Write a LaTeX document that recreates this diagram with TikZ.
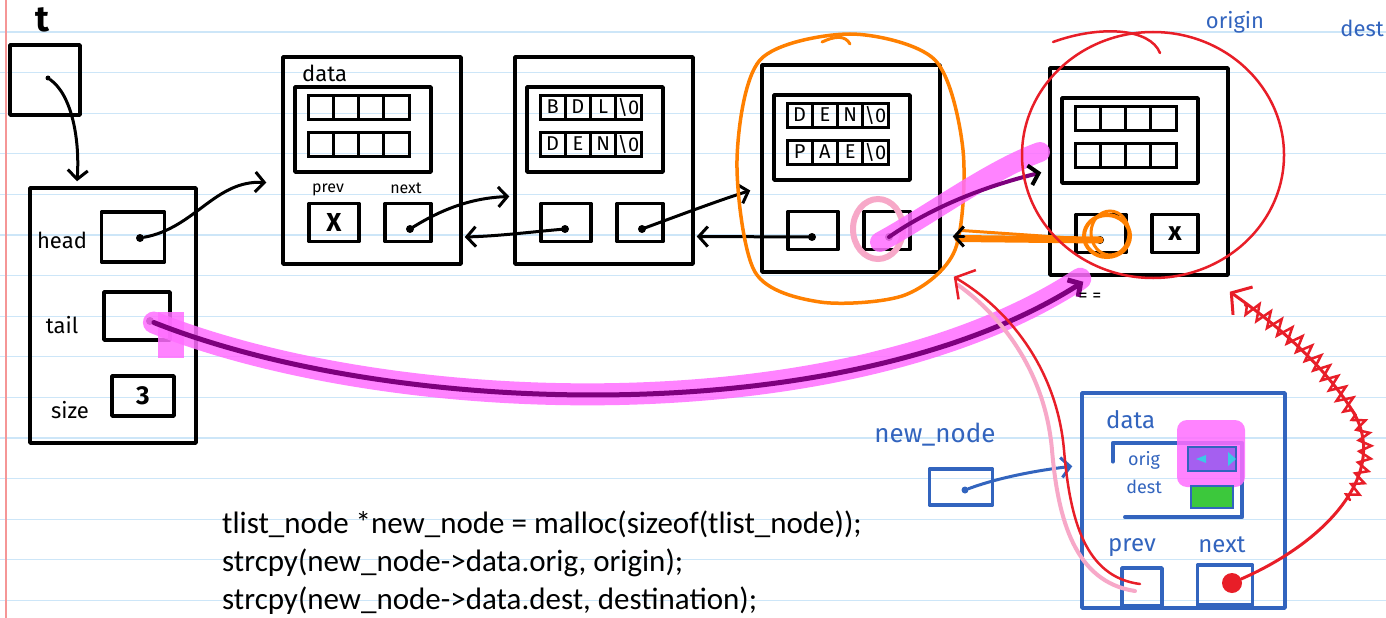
\documentclass[tikz,border=0pt]{standalone}
\usepackage{fontspec}
\setmainfont{Carlito}
\newfontfamily\hand{Fira Sans}
\usetikzlibrary{arrows.meta,decorations.pathmorphing,calc}
\definecolor{rulec}{RGB}{205,230,248}
\definecolor{marginc}{RGB}{245,150,150}
\definecolor{penblue}{RGB}{50,100,190}
\definecolor{penred}{RGB}{232,30,40}
\definecolor{penorange}{RGB}{255,128,0}
\definecolor{hlmag}{RGB}{255,110,255}
\definecolor{darkpurple}{RGB}{125,0,125}
\definecolor{lightpink}{RGB}{247,168,200}
\definecolor{hlgreen}{RGB}{60,200,60}
\definecolor{hlpurple}{RGB}{165,95,240}
\definecolor{hlcyan}{RGB}{60,200,230}
\tikzset{
 blk/.style={draw=black, line width=3.5pt, inner sep=0pt, line join=round},
 blkblue/.style={draw=penblue, line width=3.5pt, inner sep=0pt, line join=round},
 cell/.style={draw=black, line width=3pt, minimum width=25.25pt, minimum height=24pt, inner sep=0pt, font=\hand\fontsize{20}{20}\selectfont},
 lbl/.style={font=\hand\fontsize{22}{22}\selectfont, inner sep=0pt},
 small/.style={font=\hand\fontsize{16}{16}\selectfont, inner sep=0pt},
 ptr/.style={draw=black, line width=3pt, line cap=round, -{Straight Barb[length=9pt,width=20pt]}},
 ptrblue/.style={draw=penblue, line width=3pt, line cap=round, -{Straight Barb[length=9pt,width=20pt]}},
 dotc/.style={circle, fill=black, inner sep=0pt, minimum size=8pt},
 hl/.style={draw=hlmag, line cap=round, opacity=0.85},
 redline/.style={draw=penred, line width=2.5pt, line cap=round},
 code/.style={font=\fontsize{31}{31}\selectfont, inner sep=0pt}
}
\newcommand\llnode[5]{%
\begin{scope}[shift={(#2,#3)}]
\node[blk, minimum width=178pt, minimum height=207pt] (#1) at (89,103.5) {};
\node[blk, minimum width=136pt, minimum height=85pt] (#1d) at (80,72.5) {};
\foreach \ch [count=\i] in {#4} {\node[cell] (#1a\i) at ({25+25.25*(\i-0.5)},50) {\ch};}
\foreach \ch [count=\i] in {#5} {\node[cell] (#1b\i) at ({25+25.25*(\i-0.5)},87) {\ch};}
\node[blk, minimum width=50pt, minimum height=38pt] (#1p) at (51,165.5) {};
\node[blk, minimum width=46pt, minimum height=38pt] (#1n) at (125,165.5) {};
\coordinate (#1pd) at (50,172);
\coordinate (#1nd) at (127,172);
\end{scope}}
\begin{document}
\begin{tikzpicture}[x=1pt,y=-1pt]
\useasboundingbox (0,0) rectangle (1386,618);
\clip (0,0) rectangle (1386,618);
\fill[white] (0,0) rectangle (1386,618);
\foreach \k in {0,...,14} {\draw[rulec, line width=1.2pt] (0,{32+40.6*\k}) -- (1386,{32+40.6*\k});}
\draw[marginc, line width=1.5pt] (6,0) -- (6,618);

% t and list struct
\node[font=\hand\bfseries\fontsize{36}{36}\selectfont, inner sep=0pt] (tlab) at (42,20) {t};
\node[blk, minimum width=70pt, minimum height=70pt] (tbox) at (45,80) {};
\node[dotc, minimum size=5pt] (tdot) at (48,78) {};
\node[blk, minimum width=166pt, minimum height=255pt] (list) at (113,315.5) {};
\draw[ptr] (tdot) .. controls (72,95) and (80,140) .. ([xshift=-36pt,yshift=5pt]list.north);
\node[lbl] (headl) at (62,240) {head};
\node[lbl] (taill) at (62,325) {tail};
\node[lbl] (sizel) at (70,410) {size};
\node[blk, minimum width=63pt, minimum height=50pt] (headb) at (133,237) {};
\node[blk, minimum width=66pt, minimum height=48pt] (tailb) at (137,316) {};
\node[blk, minimum width=62pt, minimum height=40pt, font=\hand\bfseries\fontsize{26}{26}\selectfont] (sizeb) at (143,396) {3};
\node[dotc] (headd) at (140,238) {};
\node[dotc] (taild) at (150,321) {};

% list nodes
\llnode{n1}{283}{57}{{},{},{},{}}{{},{},{},{}}
\llnode{n2}{515}{57}{B,D,L,\textbackslash0}{D,E,N,\textbackslash0}
\llnode{n3}{762}{65}{D,E,N,\textbackslash0}{P,A,E,\textbackslash0}
\llnode{n4}{1050}{68}{{},{},{},{}}{{},{},{},{}}
\node[lbl, anchor=west] (n1data) at (302,73) {data};
\node[small] (n1prevl) at (328,190) {prev};
\node[small] (n1nextl) at (406,188) {next};
\node[font=\hand\bfseries\fontsize{26}{26}\selectfont, inner sep=0pt] (n1x) at (n1p) {X};
\node[font=\hand\bfseries\fontsize{26}{26}\selectfont, inner sep=0pt] (n4x) at (n4n) {x};
\foreach \d in {n1nd,n2pd,n2nd,n3pd,n3nd,n4pd} {\node[dotc] (\d c) at (\d) {};}

\draw[ptr] (headd) .. controls (195,228) and (215,180) .. ([xshift=-15pt,yshift=-22pt]n1.west);
\draw[ptr] (n1nd) .. controls (440,210) and (470,198) .. ([xshift=-4pt,yshift=-36pt]n2.west);
\draw[ptr] (n2pd) .. controls (530,232) and (500,236) .. ([xshift=2pt,yshift=-76.5pt]n1.east);
\draw[ptr] (n2nd) .. controls (680,215) and (720,200) .. ([xshift=-10pt,yshift=-22pt]n3.west);
\draw[ptr] (n3pd) -- ([xshift=2pt,yshift=-76pt]n2.east);

% orange circle around node 3
\draw[penorange, line width=3.5pt, line join=round] plot[smooth cycle] coordinates {(850,34) (935,60) (963,150) (955,250) (905,295) (820,302) (755,272) (737,160) (760,60)};
\draw[penorange, line width=3pt, line cap=round] (822,42) .. controls (835,36) and (845,35) .. (850,44);

% pink circle around node 3 next
\draw[lightpink, line width=6pt] (878,229) ellipse [x radius=25pt, y radius=30pt];

% node3 next -> node4
\draw[hl, line width=20pt] (880,242) .. controls (930,215) and (990,170) .. (1040,152);
\draw[darkpurple, line width=4pt, line cap=round, -{Straight Barb[length=9pt,width=20pt,color=black]}] (n3nd) .. controls (935,205) and (990,185) .. ([xshift=-7pt,yshift=-1pt]n4.west);

% node4 prev -> node3 (orange)
\draw[penorange, line width=7pt, line cap=round] (n4pd) -- ([xshift=16pt,yshift=-70pt]n3.east);
\draw[penorange, line width=3pt, line cap=round] (n4pd) -- ([xshift=20pt,yshift=-62pt]n3.east);
\draw[ptr] ([xshift=22pt,yshift=-68pt]n3.east) -- ([xshift=11pt,yshift=-68pt]n3.east);
\draw[penorange, line width=4pt] (1107,236) ellipse [x radius=23pt, y radius=21pt];
\draw[penorange, line width=3pt] (1110,233) ellipse [x radius=19pt, y radius=22pt];

% red circle around node 4
\draw[redline] (1153,155) ellipse [x radius=131pt, y radius=123pt];
\draw[redline] (1053,42) .. controls (1100,25) and (1150,28) .. (1160,53);

% tail pointer
\fill[hlmag, opacity=0.85] (158,312) rectangle (184,358);
\draw[hl, line width=22pt] (taild) .. controls (400,420) and (850,430) .. ([xshift=32pt,yshift=-2pt]n4.south west);
\draw[darkpurple, line width=5pt, line cap=round, -{Straight Barb[length=9pt,width=20pt]}] (taild) .. controls (400,420) and (850,430) .. ([xshift=35pt,yshift=-5pt]n4.south west);
\node[small, font=\hand\fontsize{18}{18}\selectfont] (eqs) at (1090,297) {= =};

% new node
\node[lbl, text=penblue, font=\hand\fontsize{26}{26}\selectfont] (nnl) at (935,435) {new\_node};
\node[blkblue, minimum width=63pt, minimum height=36pt] (nnb) at (961,487) {};
\node[circle, fill=penblue, inner sep=0pt, minimum size=7pt] (nnbd) at (965,490) {};
\node[blkblue, minimum width=203pt, minimum height=215pt] (nn) at (1183.5,500.5) {};
\draw[ptrblue] (nnbd) .. controls (1000,477) and (1040,470) .. ([xshift=-8pt,yshift=-75pt]nn.north west);
\node[lbl, text=penblue, anchor=west, font=\hand\fontsize{24}{24}\selectfont] (nndata) at (1106,420) {data};
\node[draw=none, minimum width=129pt, minimum height=74pt] (nndb) at (1177.5,480) {};
\draw[penblue, line width=3.5pt, line cap=round, line join=round] ([yshift=-19pt]nndb.north west) -- (nndb.north west) -- (nndb.north east) -- (nndb.south east) -- ([xshift=12pt]nndb.south west);
\node[small, text=penblue, font=\hand\fontsize{18}{18}\selectfont] (nnorig) at (1144,460) {orig};
\node[small, text=penblue, font=\hand\fontsize{18}{18}\selectfont] (nndest) at (1144,487) {dest};
\fill[hlmag, opacity=0.85, rounded corners=10pt] (1177,420) rectangle (1245,487);
\node[draw=penblue, line width=2.5pt, fill=hlpurple, minimum width=48pt, minimum height=24pt, inner sep=0pt] (nnob) at (1212,459) {};
\fill[hlcyan] (1228,452) -- (1236,459) -- (1228,466) -- cycle;
\fill[hlcyan] (1196,459) -- (1206,455) -- (1206,463) -- cycle;
\node[draw=penblue, line width=2.5pt, fill=hlgreen, minimum width=42pt, minimum height=22pt, inner sep=0pt] (nndb2) at (1212,497) {};
\node[lbl, text=penblue, font=\hand\fontsize{24}{24}\selectfont] (nnprevl) at (1132,548) {prev};
\node[lbl, text=penblue, font=\hand\fontsize{24}{24}\selectfont] (nnnextl) at (1222,545) {next};
\node[blkblue, minimum width=40pt, minimum height=38pt] (nnp) at (1142,587) {};
\node[blkblue, minimum width=55pt, minimum height=40pt] (nnn) at (1225,585) {};
\coordinate (nnpd) at (1140,584);
\node[circle, fill=penred, inner sep=0pt, minimum size=20pt] (nnnd) at (1232,583) {};

% new prev -> node3
\draw[lightpink, line width=4pt, line cap=round] (1135,591) .. controls (1075,582) and (1058,520) .. (1052,450) .. controls (1045,370) and (1000,315) .. (958,285);
\draw[redline, -{Straight Barb[length=14pt,width=34pt]}] (nnpd) .. controls (1085,577) and (1070,520) .. (1064,450) .. controls (1057,370) and (1010,310) .. ([xshift=12pt,yshift=-3pt]n3.south east);

% new next -> node4
\draw[redline, line width=3pt, -{Straight Barb[length=14pt,width=34pt]}] (nnnd) .. controls (1330,540) and (1390,470) .. (1352,410) .. controls (1320,360) and (1270,320) .. ([yshift=-15pt]n4.south east);
\draw[redline, decorate, decoration={zigzag, segment length=13pt, amplitude=8pt}] (1352,410) .. controls (1320,360) and (1290,330) .. (1245,305);
\draw[redline, decorate, decoration={zigzag, segment length=12pt, amplitude=6pt}] (1350,500) .. controls (1372,460) and (1368,430) .. (1352,410);

% top-right notes
\node[lbl, text=penblue] (origin) at (1235,22) {origin};
\node[lbl, text=penblue, anchor=east] (destn) at (1384,28) {dest};

% code
\node[code, anchor=base west] (c1) at (222,533) {tlist\_node *new\_node = malloc(sizeof(tlist\_node));};
\node[code, anchor=base west] (c2) at (222,571) {strcpy(new\_node->data.orig, origin);};
\node[code, anchor=base west] (c3) at (222,609) {strcpy(new\_node->data.dest, destination);};
\end{tikzpicture}
\end{document}
